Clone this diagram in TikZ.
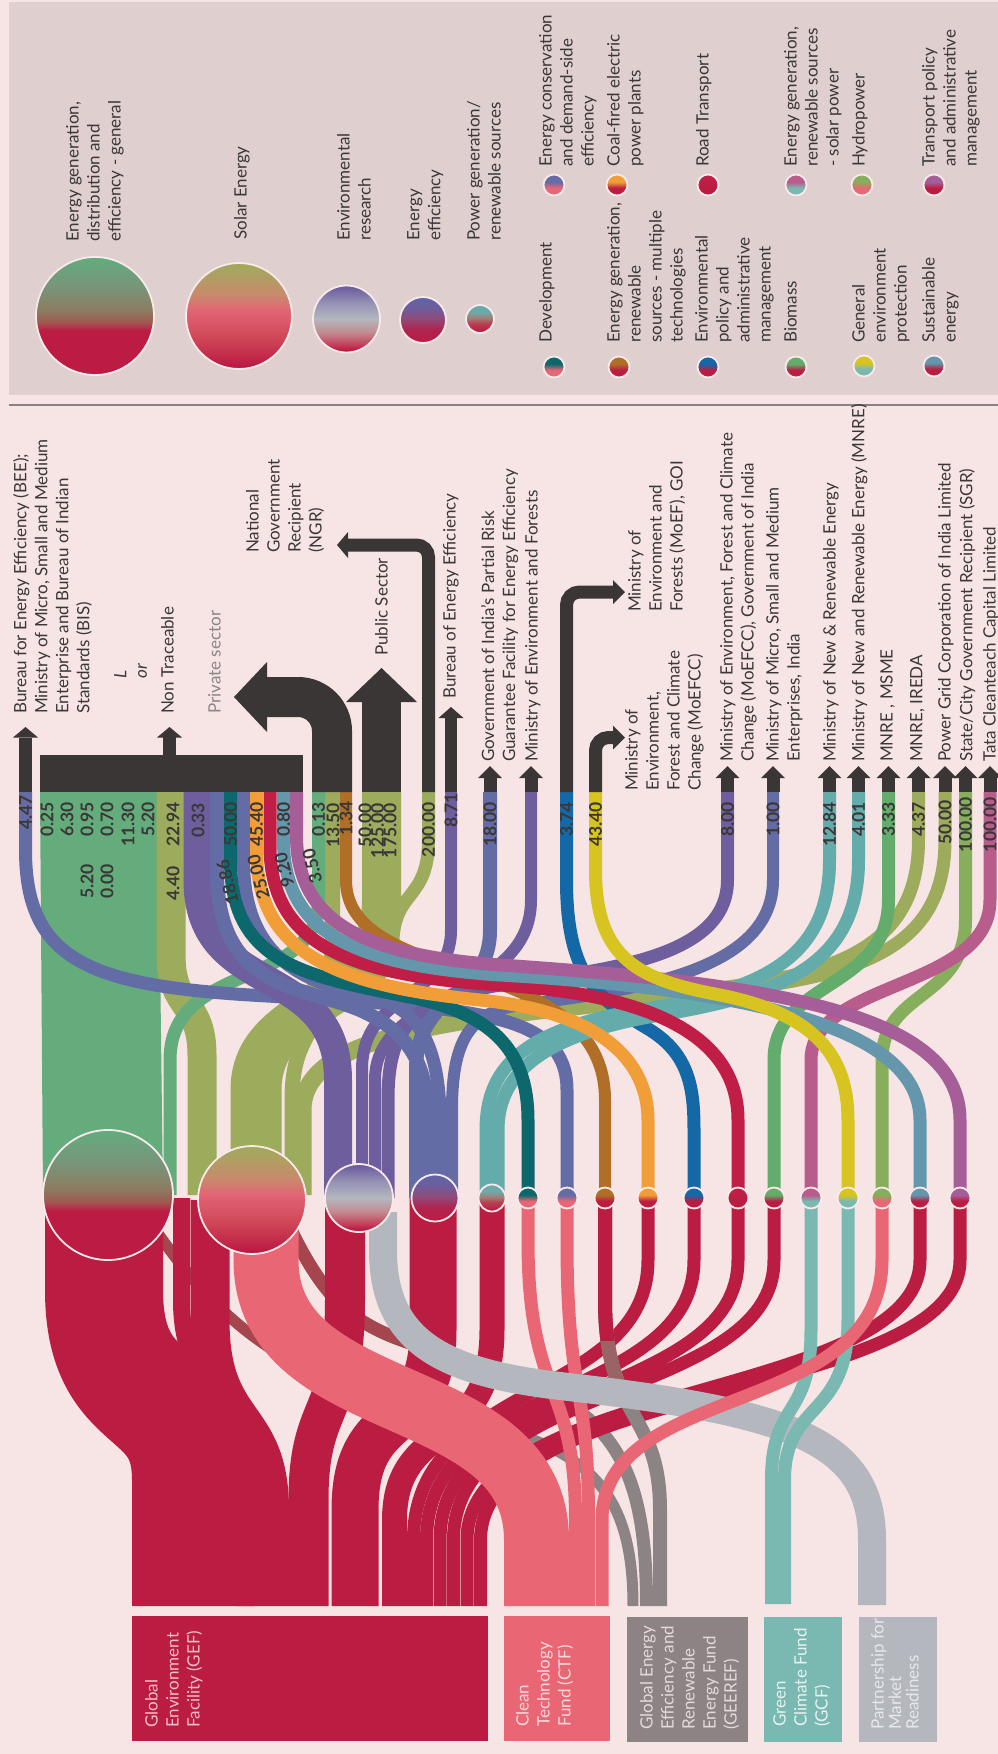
\documentclass[tikz,border=0pt]{standalone}
\usepackage{fontspec}
\setmainfont{Lato}
\definecolor{bg}{HTML}{F6E5E4}
\definecolor{legbg}{HTML}{DFCFCF}
\definecolor{sepc}{HTML}{8A8282}
\definecolor{dark}{HTML}{3A3636}
\definecolor{txt}{HTML}{3B3737}
\definecolor{graytxt}{HTML}{8C8585}
\definecolor{cGreen}{HTML}{64AC7C}
\definecolor{cOlive}{HTML}{9CAC5C}
\definecolor{cPurple}{HTML}{6E5E9E}
\definecolor{cBP}{HTML}{646CA6}
\definecolor{cTeal}{HTML}{64ACAC}
\definecolor{cDTeal}{HTML}{0C686C}
\definecolor{cBrown}{HTML}{B06E26}
\definecolor{cOrange}{HTML}{F29E38}
\definecolor{cBlue}{HTML}{1468A6}
\definecolor{cRed}{HTML}{C01E46}
\definecolor{cBio}{HTML}{64AC6C}
\definecolor{cMag}{HTML}{B85C8C}
\definecolor{cYel}{HTML}{D8C420}
\definecolor{cHydro}{HTML}{86AE5C}
\definecolor{cSust}{HTML}{6496AC}
\definecolor{cTrans}{HTML}{A65E98}
\definecolor{cGEF}{HTML}{BA1C42}
\definecolor{cCTF}{HTML}{E96675}
\definecolor{cGEE}{HTML}{8C8484}
\definecolor{cGCF}{HTML}{7AB8B2}
\definecolor{cPMR}{HTML}{B4B8BE}
\definecolor{cBrn}{HTML}{A5464F}
\definecolor{cBrn2}{HTML}{9A6466}
\definecolor{bord}{HTML}{F8EAEA}
\definecolor{tGEF}{HTML}{F3BFC8}
\definecolor{tCTF}{HTML}{FCD9DD}
\definecolor{tGEE}{HTML}{E4DADA}
\definecolor{tGCF}{HTML}{E6F3F1}
\definecolor{tPMR}{HTML}{E8E8EC}
% shading colours
\definecolor{shcr}{HTML}{BC1C44}
\definecolor{shAa}{HTML}{A05A50}
\definecolor{shAb}{HTML}{8C7C62}
\definecolor{shAc}{HTML}{78957A}
\definecolor{shAd}{HTML}{62AC7E}
\definecolor{shBa}{HTML}{D04858}
\definecolor{shBb}{HTML}{E26474}
\definecolor{shBc}{HTML}{C88A6C}
\definecolor{shBd}{HTML}{A4A85E}
\definecolor{shCa}{HTML}{C4405A}
\definecolor{shCb}{HTML}{C28A90}
\definecolor{shCc}{HTML}{B4B8BE}
\definecolor{shCd}{HTML}{9490B4}
\definecolor{shCe}{HTML}{6E60A0}
\definecolor{shDa}{HTML}{B02450}
\definecolor{shDb}{HTML}{8E4C7C}
\definecolor{shDc}{HTML}{6A5EA0}
\definecolor{shDd}{HTML}{5E66A6}
\definecolor{shEa}{HTML}{B84050}
\definecolor{shEb}{HTML}{A08078}
\definecolor{shEc}{HTML}{70A8A8}
\definecolor{shEd}{HTML}{64ACAC}
\pgfdeclareverticalshading{shA}{100bp}{color(0bp)=(shcr); color(44bp)=(shcr); color(47.5bp)=(shAa); color(52.5bp)=(shAb); color(62.5bp)=(shAc); color(75bp)=(shAd); color(100bp)=(shAd)}
\pgfdeclareverticalshading{shB}{100bp}{color(0bp)=(shcr); color(27bp)=(shcr); color(40bp)=(shBa); color(52.5bp)=(shBb); color(60bp)=(shBc); color(73bp)=(shBd); color(100bp)=(shBd)}
\pgfdeclareverticalshading{shC}{100bp}{color(0bp)=(shcr); color(27bp)=(shcr); color(31bp)=(shCa); color(40bp)=(shCb); color(50bp)=(shCc); color(62.5bp)=(shCd); color(73bp)=(shCe); color(100bp)=(shCe)}
\pgfdeclareverticalshading{shD}{100bp}{color(0bp)=(shcr); color(27bp)=(shcr); color(40bp)=(shDa); color(52bp)=(shDb); color(65bp)=(shDc); color(75bp)=(shDd); color(100bp)=(shDd)}
\pgfdeclareverticalshading{shE}{100bp}{color(0bp)=(shcr); color(28bp)=(shcr); color(42bp)=(shEa); color(52bp)=(shEb); color(62bp)=(shEc); color(73bp)=(shEd); color(100bp)=(shEd)}
\colorlet{topc}{red}
\colorlet{botc}{blue}
\pgfdeclareverticalshading[topc,botc]{twotone}{100bp}{color(0bp)=(botc); color(43bp)=(botc); color(57bp)=(topc); color(100bp)=(topc)}

\begin{document}
\begin{tikzpicture}[x=1pt,y=-1pt,
  fl/.style={line width=#1, line cap=butt},
  lbl/.style={rotate=90, anchor=north west, inner sep=0pt, align=left, font=\fontsize{17}{21}\selectfont, text=txt},
  num/.style={rotate=90, anchor=east, inner sep=0pt, font=\fontsize{17.5}{17.5}\selectfont\bfseries, text=txt},
  circ/.style={circle, inner sep=0pt, draw=bord, line width=1.8pt, shade},
  twotone/.style 2 args={/utils/exec={\colorlet{topc}{#1}\colorlet{botc}{#2}}, shading=twotone}]
\useasboundingbox (0,0) rectangle (998,1754);
\fill[bg] (0,0) rectangle (998,1754);

% ---------------- legend ----------------
\fill[legbg] (9,2) rectangle (998,395);
\draw[sepc, line width=1.5pt] (9,405) -- (998,405);
\node[circ, minimum size=118pt, shading=shA] (g1) at (95,316) {};
\node[circ, minimum size=106pt, shading=shB] (g2) at (239,316) {};
\node[circ, minimum size=67pt, shading=shC] (g3) at (346.5,319) {};
\node[circ, minimum size=46pt, shading=shD] (g4) at (423,320) {};
\node[circ, minimum size=28pt, shading=shE] (g5) at (480,319) {};
\node[lbl] (gl1) at (66,242) {Energy generation,\\distribution and\\efficiency - general};
\node[lbl] (gl2) at (234,240) {Solar Energy};
\node[lbl] (gl3) at (337,241) {Environmental\\research};
\node[lbl] (gl4) at (407,241) {Energy\\efficiency};
\node[lbl] (gl5) at (467,241) {Power generation/\\renewable sources};
% row 1
\node[circ, minimum size=21pt, twotone={cBP}{cCTF}] (r1a) at (554,185) {};
\node[circ, minimum size=21pt, twotone={cOrange}{cGEF}] (r1b) at (617,185) {};
\node[circ, minimum size=21pt, twotone={cRed}{cGEF}] (r1c) at (708,185) {};
\node[circ, minimum size=21pt, twotone={cMag}{cGCF}] (r1d) at (796,185) {};
\node[circ, minimum size=21pt, twotone={cHydro}{cCTF}] (r1e) at (862,185) {};
\node[circ, minimum size=21pt, twotone={cTrans}{cGEF}] (r1f) at (934,185) {};
\node[lbl] (t1a) at (539,167) {Energy conservation\\and demand-side\\efficiency};
\node[lbl] (t1b) at (607,167) {Coal-fired electric\\power plants};
\node[lbl] (t1c) at (696,167) {Road Transport};
\node[lbl] (t1d) at (784,167) {Energy generation,\\renewable sources\\- solar power};
\node[lbl] (t1e) at (852,167) {Hydropower};
\node[lbl] (t1f) at (922,167) {Transport policy\\and administrative\\management};
% row 2
\node[circ, minimum size=21pt, twotone={cDTeal}{cCTF}] (r2a) at (554,367) {};
\node[circ, minimum size=21pt, twotone={cBrown}{cGEF}] (r2b) at (619,367) {};
\node[circ, minimum size=21pt, twotone={cBlue}{cGEF}] (r2c) at (708,367) {};
\node[circ, minimum size=21pt, twotone={cBio}{cGEF}] (r2d) at (796,367) {};
\node[circ, minimum size=21pt, twotone={cYel}{cGCF}] (r2e) at (864,366) {};
\node[circ, minimum size=21pt, twotone={cSust}{cGEF}] (r2f) at (934,366) {};
\node[lbl] (t2a) at (539,343) {Development};
\node[lbl] (t2b) at (607,343) {Energy generation,\\renewable\\sources - multiple\\technologies};
\node[lbl] (t2c) at (695,343) {Environmental\\policy and\\administrative\\management};
\node[lbl] (t2d) at (784,343) {Biomass};
\node[lbl] (t2e) at (852,343) {General\\environment\\protection};
\node[lbl] (t2f) at (922,343) {Sustainable\\energy};

% ---------------- upper flows ----------------
\fill[cGreen] (40,792) -- (158,792) -- (163,1195) -- (43,1195) -- cycle;
\draw[fl=29pt, cOlive] (171,792) -- (171,955) .. controls (171,1010) and (202,1000) .. (202,1055) -- (202,1195);
\draw[fl=39pt, cOlive] (381.5,792) -- (381.5,900) .. controls (381.5,1010) and (250,1000) .. (250,1090) -- (250,1195);
\draw[fl=13pt, cOlive] (428.5,792) -- (428.5,840) .. controls (428.5,900) and (395,890) .. (393,940) .. controls (390,1010) and (275,1010) .. (275,1090) -- (275,1195);
\draw[fl=15pt, cOlive] (332.5,792) -- (332.5,930) .. controls (332.5,1040) and (292,1020) .. (292,1100) -- (292,1195);
\draw[fl=13pt, cOlive] (918.5,792) -- (918.5,840) .. controls (918.5,930) and (860,965) .. (760,982) .. controls (560,1015) and (300,1010) .. (300,1110) -- (300,1195);
\draw[fl=13pt, cOlive] (945,792) -- (945,840) .. controls (945,935) and (880,968) .. (770,985) .. controls (560,1018) and (305,1015) .. (305,1110) -- (305,1195);
\draw[fl=13pt, cGreen] (318.5,792) -- (318.5,900) .. controls (318.5,990) and (170,960) .. (170,1060) -- (170,1195);
\draw[fl=13pt, cBP] (25.5,792) -- (25.5,850) .. controls (25.5,960) and (90,985) .. (250,995) .. controls (470,1008) and (567,1010) .. (567,1090) -- (567,1198);
\draw[fl=28pt, cPurple] (197.5,792) -- (197.5,880) .. controls (197.5,1000) and (338,960) .. (338,1080) -- (338,1197);
\draw[fl=12pt, cPurple] (451,792) -- (451,930) .. controls (451,1000) and (362,990) .. (362,1070) -- (362,1198);
\draw[fl=12pt, cPurple] (531,792) -- (531,900) .. controls (531,1000) and (375,990) .. (375,1080) -- (375,1198);
\draw[fl=13pt, cPurple] (727.5,792) -- (727.5,880) .. controls (727.5,960) and (600,970) .. (500,985) .. controls (410,1000) and (388,1030) .. (388,1100) -- (388,1198);
\draw[fl=14pt, cBP] (217,792) -- (217,870) .. controls (217,990) and (300,985) .. (360,1010) .. controls (405,1030) and (428,1060) .. (428,1120) -- (428,1198);
\draw[fl=13pt, cBP] (243.5,792) -- (243.5,860) .. controls (243.5,970) and (320,985) .. (380,1000) .. controls (425,1012) and (440,1060) .. (440,1120) -- (440,1198);
\draw[fl=14pt, cBP] (490,792) -- (490,930) .. controls (490,1000) and (416,990) .. (416,1070) -- (416,1198);
\draw[fl=12pt, cBP] (773,792) -- (773,880) .. controls (773,970) and (640,990) .. (520,1005) .. controls (470,1012) and (452,1040) .. (452,1110) -- (452,1198);
\draw[fl=12pt, cBrown] (346,792) -- (346,880) .. controls (346,990) and (605,950) .. (605,1100) -- (605,1198);
\draw[fl=13pt, cBlue] (566.5,792) -- (566.5,880) .. controls (566.5,980) and (600,1000) .. (650,1030) .. controls (690,1055) and (694,1090) .. (694,1130) -- (694,1198);
\draw[fl=13pt, cTeal] (829.5,792) -- (829.5,860) .. controls (829.5,960) and (760,990) .. (640,1010) .. controls (520,1030) and (486,1070) .. (486,1130) -- (486,1198);
\draw[fl=13pt, cTeal] (858.5,792) -- (858.5,860) .. controls (858.5,965) and (780,995) .. (660,1015) .. controls (540,1035) and (498,1075) .. (498,1130) -- (498,1198);
\draw[fl=13pt, cBio] (888.5,792) -- (888.5,900) .. controls (888.5,990) and (774,980) .. (774,1060) -- (774,1198);
\draw[fl=13pt, cHydro] (965.5,792) -- (965.5,920) .. controls (965.5,1000) and (882,990) .. (882,1060) -- (882,1198);
\draw[fl=13pt, cMag] (990,792) -- (990,900) .. controls (990,990) and (811,980) .. (811,1060) -- (811,1198);
\draw[fl=13pt, cDTeal] (230.5,792) -- (230.5,860) .. controls (230.5,960) and (300,975) .. (400,995) .. controls (480,1010) and (528,1040) .. (528,1120) -- (528,1198);
\draw[fl=13pt, cOrange] (256.5,792) -- (256.5,850) .. controls (256.5,950) and (330,985) .. (480,1000) .. controls (600,1012) and (648,1060) .. (648,1120) -- (648,1198);
\draw[fl=13pt, cRed] (270,792) -- (270,845) .. controls (270,940) and (340,975) .. (500,985) .. controls (660,995) and (738,1040) .. (738,1120) -- (738,1198);
\draw[fl=13pt, cSust] (283.5,792) -- (283.5,840) .. controls (283.5,930) and (350,965) .. (500,975) .. controls (760,990) and (920,1030) .. (920,1120) -- (920,1198);
\draw[fl=13pt, cTrans] (296.5,792) -- (296.5,835) .. controls (296.5,920) and (360,955) .. (500,965) .. controls (800,985) and (960,1020) .. (960,1120) -- (960,1198);
\draw[fl=13pt, cYel] (595.5,792) -- (595.5,870) .. controls (595.5,960) and (640,980) .. (720,995) .. controls (820,1015) and (848,1060) .. (848,1120) -- (848,1198);

% ---------------- lower flows ----------------
\draw[fl=11pt, cGEE] (150,1222) .. controls (230,1340) and (300,1382) .. (450,1415) .. controls (580,1445) and (633,1480) .. (633,1606);
\draw[fl=13pt, cGEE] (290,1228) .. controls (330,1310) and (360,1330) .. (440,1352) .. controls (600,1398) and (646.5,1440) .. (646.5,1606);
\begin{scope}
\clip (0,0) rectangle (480,1754);
\draw[fl=11pt, cBrn] (150,1222) .. controls (230,1340) and (300,1382) .. (450,1415) .. controls (580,1445) and (633,1480) .. (633,1606);
\draw[fl=13pt, cBrn] (290,1228) .. controls (330,1310) and (360,1330) .. (440,1352) .. controls (600,1398) and (646.5,1440) .. (646.5,1606);
\end{scope}
\draw[fl=118pt, cGEF] (104,1195) -- (104,1290) .. controls (104,1415) and (191,1380) .. (191,1480) -- (191,1606);
\draw[fl=17pt, cGEF] (181.5,1198) -- (181.5,1300) .. controls (181.5,1400) and (245,1380) .. (245,1480) -- (245,1606);
\draw[fl=39pt, cGEF] (210,1200) -- (210,1320) .. controls (210,1430) and (269.5,1410) .. (269.5,1510) -- (269.5,1606);
\draw[fl=40pt, cGEF] (345,1197) -- (345,1300) .. controls (345,1420) and (308.5,1400) .. (308.5,1500) -- (308.5,1606);
\draw[fl=47pt, cGEF] (433,1198) -- (433,1330) .. controls (433,1440) and (355,1400) .. (355,1510) -- (355,1606);
\draw[fl=25pt, cGEF] (492,1198) -- (492,1330) .. controls (492,1450) and (394.5,1420) .. (394.5,1520) -- (394.5,1606);
\foreach \xs/\xt in {648/413.5, 694/426.5, 738/440, 774/453.5, 920/467, 960/480.5}
  \draw[fl=13pt, cGEF] (\xs,1198) -- (\xs,1260) .. controls (\xs,1400) and (\xt,1380) .. (\xt,1540) -- (\xt,1606);
% multiple technologies -> GEEREF (crimson to grey)
\draw[fl=14pt, cGEE] (605,1198) -- (605,1300) .. controls (605,1420) and (660,1410) .. (660,1510) -- (660,1606);
\begin{scope}
\clip (0,0) rectangle (998,1395);
\draw[fl=14pt, cBrn2] (605,1198) -- (605,1300) .. controls (605,1420) and (660,1410) .. (660,1510) -- (660,1606);
\end{scope}
\begin{scope}
\clip (0,0) rectangle (998,1340);
\draw[fl=14pt, cGEF] (605,1198) -- (605,1300) .. controls (605,1420) and (660,1410) .. (660,1510) -- (660,1606);
\end{scope}
\draw[fl=65pt, cCTF] (266,1200) -- (266,1260) .. controls (266,1420) and (536.5,1380) .. (536.5,1540) -- (536.5,1606);
\draw[fl=13pt, cCTF] (528,1198) -- (528,1240) .. controls (528,1400) and (575.5,1380) .. (575.5,1520) -- (575.5,1606);
\draw[fl=13pt, cCTF] (567,1198) -- (567,1240) .. controls (567,1400) and (588.5,1380) .. (588.5,1520) -- (588.5,1606);
\draw[fl=28pt, cPMR] (383,1212) -- (383,1250) .. controls (383,1340) and (440,1372) .. (560,1386) .. controls (790,1412) and (872,1440) .. (872,1540) -- (872,1605);
\draw[fl=13pt, cGCF] (811,1198) -- (811,1330) .. controls (811,1420) and (771.5,1400) .. (771.5,1480) -- (771.5,1604);
\draw[fl=13pt, cGCF] (848,1198) -- (848,1320) .. controls (848,1420) and (784.5,1400) .. (784.5,1480) -- (784.5,1604);
\draw[fl=13pt, cCTF] (882,1198) -- (882,1260) .. controls (882,1420) and (602,1380) .. (602,1520) -- (602,1606);

% ---------------- circles ----------------
\node[circ, minimum size=130pt, shading=shA] (m1) at (108,1195) {};
\node[circ, minimum size=108pt, shading=shB] (m2) at (252,1200) {};
\node[circ, minimum size=68pt, shading=shC] (m3) at (359,1198) {};
\node[circ, minimum size=47pt, shading=shD] (m4) at (435,1198) {};
\node[circ, minimum size=27pt, shading=shE] (m5) at (492,1198) {};
\node[circ, minimum size=21pt, twotone={cDTeal}{cCTF}] (s1) at (528,1198) {};
\node[circ, minimum size=21pt, twotone={cBP}{cCTF}] (s2) at (567,1198) {};
\node[circ, minimum size=21pt, twotone={cBrown}{cGEF}] (s3) at (605,1198) {};
\node[circ, minimum size=21pt, twotone={cOrange}{cGEF}] (s4) at (648,1198) {};
\node[circ, minimum size=21pt, twotone={cBlue}{cGEF}] (s5) at (694,1198) {};
\node[circ, minimum size=21pt, twotone={cRed}{cGEF}] (s6) at (738,1198) {};
\node[circ, minimum size=21pt, twotone={cBio}{cGEF}] (s7) at (774,1198) {};
\node[circ, minimum size=21pt, twotone={cMag}{cGCF}] (s8) at (811,1198) {};
\node[circ, minimum size=21pt, twotone={cYel}{cGCF}] (s9) at (848,1198) {};
\node[circ, minimum size=21pt, twotone={cHydro}{cCTF}] (s10) at (882,1198) {};
\node[circ, minimum size=21pt, twotone={cSust}{cGEF}] (s11) at (920,1198) {};
\node[circ, minimum size=21pt, twotone={cTrans}{cGEF}] (s12) at (960,1198) {};

% ---------------- bar and arrows ----------------
\fill[dark] (40,755) rectangle (303,792);
\fill[dark] (19,737.5) rectangle (32,792);
\fill[dark] (13,737.5) -- (25.5,727) -- (38,737.5) -- cycle;
\fill[dark] (163,737) rectangle (176,756);
\fill[dark] (157,737.5) -- (169.5,727) -- (182,737.5) -- cycle;
\draw[dark, line width=40pt, rounded corners=34pt] (332,792) -- (332,697) -- (266,697);
\fill[dark] (267,662) -- (234,697) -- (267,732) -- cycle;
\fill[dark] (362,701) rectangle (401,792);
\fill[dark] (346,702) -- (381.5,668) -- (417,702) -- cycle;
\draw[dark, line width=13pt, rounded corners=12pt] (428.5,792) -- (428.5,545) -- (347,545);
\fill[dark] (348,532) -- (337,545) -- (348,558) -- cycle;
\fill[dark] (445,717) rectangle (457,792);
\fill[dark] (438.5,718) -- (451,707) -- (463.5,718) -- cycle;
\foreach \x in {490, 531, 727.5, 773, 829.5, 858.5, 888.5, 918.5, 945, 965.5, 990} {
  \fill[dark] (\x-6.5,777) rectangle (\x+6.5,792);
  \fill[dark] (\x-12,778) -- (\x,766) -- (\x+12,778) -- cycle;
}
\draw[dark, line width=13pt, rounded corners=13pt] (566.5,792) -- (566.5,592) -- (614,592);
\fill[dark] (613,580) -- (625,592) -- (613,604) -- cycle;
\draw[dark, line width=13pt, rounded corners=13pt] (595.5,792) -- (595.5,737.5) -- (614,737.5);
\fill[dark] (613,725.5) -- (625,737.5) -- (613,749.5) -- cycle;

% ---------------- numbers ----------------
\node[num] (n1) at (25.5,795) {4.47};
\node[num] (n2) at (47,802) {0.25};
\node[num] (n3) at (67,802) {6.30};
\node[num] (n4) at (87,802) {0.95};
\node[num] (n5) at (107,802) {0.70};
\node[num] (n6) at (128,802) {11.30};
\node[num] (n7) at (148,802) {5.20};
\node[num] (n8) at (87,864) {5.20};
\node[num] (n9) at (107,864) {0.00};
\node[num] (n10) at (173,802) {22.94};
\node[num] (n11) at (173,866) {4.40};
\node[num] (n12) at (198,803) {0.33};
\node[num, rotate=14] (n13) at (222,860) {18.86};
\node[num] (n14) at (230.5,802) {50.00};
\node[num, rotate=14] (n15) at (253,855) {25.00};
\node[num] (n16) at (256.5,802) {45.40};
\node[num, rotate=14] (n17) at (280,853) {9.20};
\node[num] (n18) at (283.5,802) {0.80};
\node[num, rotate=14] (n19) at (308,849) {3.50};
\node[num] (n20) at (318.5,802) {0.13};
\node[num] (n21) at (333,803) {13.50};
\node[num] (n22) at (346,801) {1.34};
\node[num] (n23) at (365,803) {50.00};
\node[num] (n24) at (377.5,803) {125.00};
\node[num] (n25) at (390,803) {175.00};
\node[num] (n26) at (428.5,802) {200.00};
\node[num] (n27) at (451,793) {8.71};
\node[num] (n28) at (490,802) {18.00};
\node[num] (n29) at (566.5,802) {3.74};
\node[num] (n30) at (595.5,802) {43.40};
\node[num] (n31) at (727.5,802) {8.00};
\node[num] (n32) at (773,802) {1.00};
\node[num] (n33) at (829.5,802) {12.84};
\node[num] (n34) at (858.5,802) {4.01};
\node[num] (n35) at (888.5,802) {3.33};
\node[num] (n36) at (918.5,802) {4.37};
\node[num] (n37) at (945,800) {50.00};
\node[num] (n38) at (965.5,797) {100.00};
\node[num] (n39) at (990,797) {100.00};

% ---------------- top labels ----------------
\node[lbl] (lab1) at (13,714) {Bureau for Energy Efficiency (BEE);\\Ministry of Micro, Small and Medium\\Enterprise and Bureau of Indian\\Standards (BIS)};
\node[lbl, font=\fontsize{17}{21}\selectfont\itshape] (lab2a) at (114,679) {L};
\node[lbl, font=\fontsize{17}{21}\selectfont\itshape] (lab2b) at (138,679) {or};
\node[lbl] (lab3) at (161,714) {Non Traceable};
\node[lbl, text=graytxt] (lab4) at (208,714) {Private sector};
\node[lbl] (lab5) at (246,553) {National\\Government\\Recipient\\(NGR)};
\node[lbl] (lab6) at (375,656) {Public Sector};
\node[lbl] (lab7) at (443,699) {Bureau of Energy Efficiency};
\node[lbl] (lab8) at (481,762) {Government of India's Partial Risk\\Guarantee Facility for Energy Efficiency};
\node[lbl] (lab9) at (525,762) {Ministry of Environment and Forests};
\node[lbl] (lab10) at (628,612) {Ministry of\\Environment and\\Forests (MoEF), GOI};
\node[lbl] (lab11) at (625,791) {Ministry of\\Environment,\\Forest and Climate\\Change (MoEFCC)};
\node[lbl] (lab12) at (720,762) {Ministry of Environment, Forest and Climate\\Change (MoEFCC), Government of India};
\node[lbl] (lab13) at (766,762) {Ministry of Micro, Small and Medium\\Enterprises, India};
\node[lbl] (lab14) at (823,762) {Ministry of New \& Renewable Energy};
\node[lbl] (lab15) at (851,762) {Ministry of New and Renewable Energy (MNRE)};
\node[lbl] (lab16) at (880,762) {MNRE , MSME};
\node[lbl] (lab17) at (910,762) {MNRE, IREDA};
\node[lbl] (lab18) at (938,762) {Power Grid Corporation of India Limited};
\node[lbl] (lab19) at (959,762) {State/City Government Recipient (SGR)};
\node[lbl] (lab20) at (983,762) {Tata Cleanteach Capital Limited};

% ---------------- funders ----------------
\fill[cGEF] (132,1616) rectangle (488,1741);
\fill[cCTF] (504,1616) rectangle (610,1741);
\fill[cGEE] (627,1617) rectangle (748,1742);
\fill[cGCF] (764,1617) rectangle (842,1742);
\fill[cPMR] (859,1617) rectangle (937,1742);
\node[lbl, text=tGEF] (f1) at (145,1728) {Global\\Environment\\Facility (GEF)};
\node[lbl, text=tCTF] (f2) at (516,1727) {Clean\\Technology\\Fund (CTF)};
\node[lbl, text=tGEE] (f3) at (640,1730) {Global Energy\\Efficiency and\\Renewable\\Energy Fund\\(GEEREF)};
\node[lbl, text=tGCF] (f4) at (773,1727) {Green\\Climate Fund\\(GCF)};
\node[lbl, text=tPMR, font=\fontsize{17}{17.5}\selectfont] (f5) at (871,1730) {Partnership for\\Market\\Readiness};
\end{tikzpicture}
\end{document}
